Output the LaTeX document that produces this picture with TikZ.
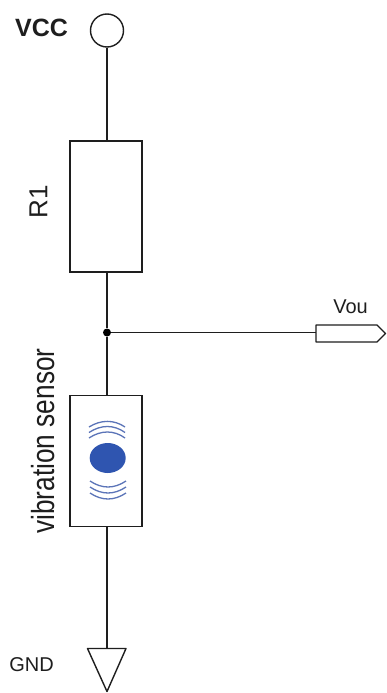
\documentclass[tikz,border=0pt]{standalone}
\usepackage{fontspec}
\setmainfont{Liberation Sans}
\definecolor{wire}{HTML}{1E1E1E}
\definecolor{waveblue}{HTML}{5B74B8}
\definecolor{dotblue}{HTML}{2F55B0}
\tikzset{
  wireline/.style={draw=wire,line width=1.4pt},
  partbox/.style={draw=wire,line width=1.5pt,fill=white,minimum width=72pt,minimum height=131pt,inner sep=0pt,rectangle},
  wave/.style={draw=waveblue,line width=1.3pt},
  lbl/.style={inner sep=0pt,text=wire},
  pin/.style={draw=wire,line width=1.4pt,fill=white,line join=round}
}
\begin{document}
\begin{tikzpicture}[x=1pt,y=-1pt]
\useasboundingbox (0,0) rectangle (386,693);
\fill[white] (0,0) rectangle (386,693);
% nodes
\node[circle,draw=wire,line width=1.4pt,minimum size=33pt,inner sep=0pt] (vcc) at (107,30.5) {};
\node[partbox] (r1) at (106,206.5) {};
\node[partbox] (sensor) at (106,461) {};
\node[circle,fill=black,minimum size=8pt,inner sep=0pt] (junction) at (107,332.5) {};
\coordinate (pinin) at (316,332.5);
\coordinate (gndtop) at (107,648);
% connectors
\draw[wireline] (vcc.south) -- (vcc.south |- r1.north);
\draw[wireline] (junction |- r1.south) -- (junction);
\draw[wireline] (junction) -- (junction |- sensor.north);
\draw[wireline] (junction |- sensor.south) -- (gndtop);
\draw[wireline] (junction) -- (pinin);
% output pin
\draw[pin] (316,325) -- (377,325) -- (385.5,333.5) -- (377,342) -- (316,342) -- cycle;
% ground
\draw[pin] (87.5,648.5) -- (126,648.5) -- (107,691.5) -- cycle;
% sensor symbol
\fill[dotblue] (107.7,458) ellipse (18pt and 15pt);
\draw[wave] (89,427) .. controls (101,419.5) and (114,419.5) .. (125,427);
\draw[wave] (89,432.5) .. controls (101,424.5) and (114,424.5) .. (125,432.5);
\draw[wave] (89,438) .. controls (101,430) and (114,430) .. (125,438);
\draw[wave] (90,481) .. controls (102,489) and (114,489) .. (126,481);
\draw[wave] (90,487) .. controls (102,495) and (114,495) .. (126,487);
\draw[wave] (90,493) .. controls (102,501) and (114,501) .. (126,493);
% labels
\node[lbl,font=\fontsize{25}{25}\selectfont\bfseries] (vcclabel) at (41.5,28) {VCC};
\node[lbl,font=\fontsize{26}{26}\selectfont,rotate=90] (r1label) at (38.5,202) {R1};
\node[lbl,font=\fontsize{32}{32}\selectfont,rotate=90,xscale=0.82] (senslabel) at (43,441) {vibration sensor};
\node[lbl,font=\fontsize{20}{20}\selectfont] (voulabel) at (350.5,307) {Vou};
\node[lbl,font=\fontsize{20}{20}\selectfont] (gndlabel) at (31.5,665) {GND};
\end{tikzpicture}
\end{document}
